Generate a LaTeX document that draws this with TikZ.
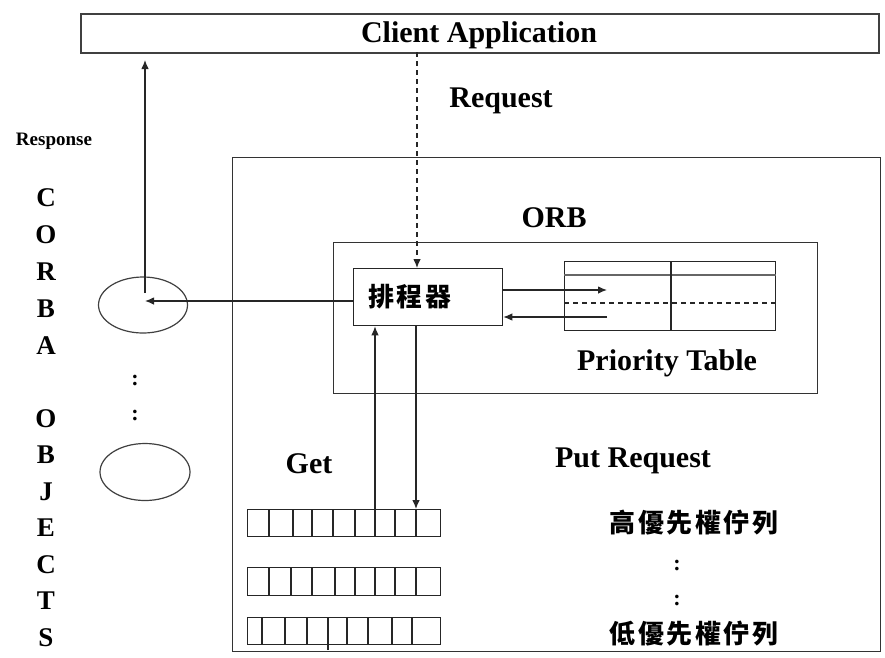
\documentclass[tikz,border=0pt]{standalone}
\usepackage{fontspec}
\setmainfont{Liberation Serif}
\newfontfamily\cjk[LetterSpace=10]{Noto Sans CJK TC}
\usetikzlibrary{arrows.meta,shapes.geometric}
\begin{document}
\begin{tikzpicture}[x=1pt,y=-1pt,
  frame/.style={draw=black!80,line width=1.4pt},
  thin/.style={draw=black!85,line width=1.1pt},
  arr/.style={thin,-{Latex[length=9pt,width=7.5pt]}},
  big/.style={font=\fontsize{30}{32}\selectfont\bfseries,inner sep=0pt},
  letter/.style={font=\fontsize{27}{29}\selectfont\bfseries,inner sep=0pt},
  han/.style={font=\cjk\fontsize{26}{28}\selectfont\bfseries,inner sep=0pt},
  dots/.style={font=\fontsize{22}{24}\selectfont\bfseries,inner sep=0pt}]
\useasboundingbox[fill=white] (0,0) rectangle (885,657);

% client application bar
\node[frame,draw=black!75,line width=1.7pt,minimum width=798pt,minimum height=39pt,
  inner sep=0pt,anchor=north west] (client) at (80,13) {};
\node[big] (clientlbl) at (479,35) {Client Application};
\node[big] (req) at (501,101) {Request};
\node[font=\fontsize{19}{21}\selectfont\bfseries,inner sep=0pt] (resp) at (54,141) {Response};

% server frame
\node[frame,minimum width=648pt,minimum height=494pt,inner sep=0pt,anchor=north west] (server) at (232,157) {};
\node[big] (orblbl) at (554,218) {ORB};
\node[frame,minimum width=484pt,minimum height=151pt,inner sep=0pt,anchor=north west] (orb) at (333,242) {};

% scheduler
\node[thin,line width=1.3pt,minimum width=149pt,minimum height=57pt,inner sep=0pt,anchor=north west] (sched) at (353,268) {};
\node[han] (schedlbl) at (410,297) {排程器};

% priority table
\node[thin,minimum width=211pt,minimum height=69pt,inner sep=0pt,anchor=north west] (ptab) at (564,261) {};
\draw[draw=black!60,line width=2.4pt] (ptab.west |- 0,275) -- (ptab.east |- 0,275);
\draw[thin] (671,261) -- (671,330);
\draw[thin,dashed,dash pattern=on 5pt off 4pt] (ptab.west |- 0,303) -- (ptab.east |- 0,303);
\node[big] (ptablbl) at (667,363) {Priority Table};
\coordinate (pin) at (607,290);
\coordinate (pout) at (607,317);
\draw[arr] (sched.east |- pin) -- (pin);
\draw[arr] (pout) -- (sched.east |- pout);

% CORBA objects
\node[draw=black!75,line width=1.2pt,ellipse,minimum width=89pt,minimum height=56pt,inner sep=0pt] (obj1) at (143,305) {};
\node[draw=black!75,line width=1.2pt,ellipse,minimum width=90pt,minimum height=57pt,inner sep=0pt] (obj2) at (145,472) {};
\node[dots] (d1) at (135,380) {:};
\node[dots] (d2) at (135,415) {:};
\coordinate (hit) at (145,301);
\coordinate (rtop) at (145,60);
\draw[arr] (sched.west |- hit) -- (hit);
\draw[arr] (145,293) -- (rtop);

\foreach \ch [count=\i] in {C,O,R,B,A} {
  \node[letter] (l\i) at (46,161+37*\i) {\ch};
}
\foreach \ch [count=\i] in {O,B,J,E,C,T,S} {
  \node[letter] (m\i) at (46,382+36.5*\i) {\ch};
}

% request path
\coordinate (reqtop) at (417,52);
\draw[arr,dashed,dash pattern=on 5pt off 4pt] (reqtop) -- (sched.north -| reqtop);

% queues
\node[big] (getlbl) at (309,464) {Get};
\node[big] (putlbl) at (633,461) {Put Request};
\node[thin,line width=1.4pt,minimum width=193pt,minimum height=27pt,inner sep=0pt,anchor=north west] (q1) at (247,509) {};
\node[thin,line width=1.4pt,minimum width=193pt,minimum height=28pt,inner sep=0pt,anchor=north west] (q2) at (247,567) {};
\node[thin,line width=1.4pt,minimum width=193pt,minimum height=27pt,inner sep=0pt,anchor=north west] (q3) at (247,617) {};
\foreach \x in {269,293,312,333,355,375,395,416} \draw[thin] (\x,509) -- (\x,536);
\foreach \x in {269,291,312,335,355,375,395,416} \draw[thin] (\x,567) -- (\x,595);
\foreach \x in {262,285,307,328,347,368,392,412} \draw[thin] (\x,617) -- (\x,644);
\draw[thin] (328,644) -- (328,650);

\coordinate (getx) at (375,0);
\coordinate (putx) at (416,0);
\draw[arr] (q1.north -| getx) -- (sched.south -| getx);
\draw[arr] (sched.south -| putx) -- (q1.north -| putx);

\node[han] (hi) at (694,523) {高優先權佇列};
\node[dots] (d3) at (677,565) {:};
\node[dots] (d4) at (677,600) {:};
\node[han] (lo) at (694,634) {低優先權佇列};
\end{tikzpicture}
\end{document}
